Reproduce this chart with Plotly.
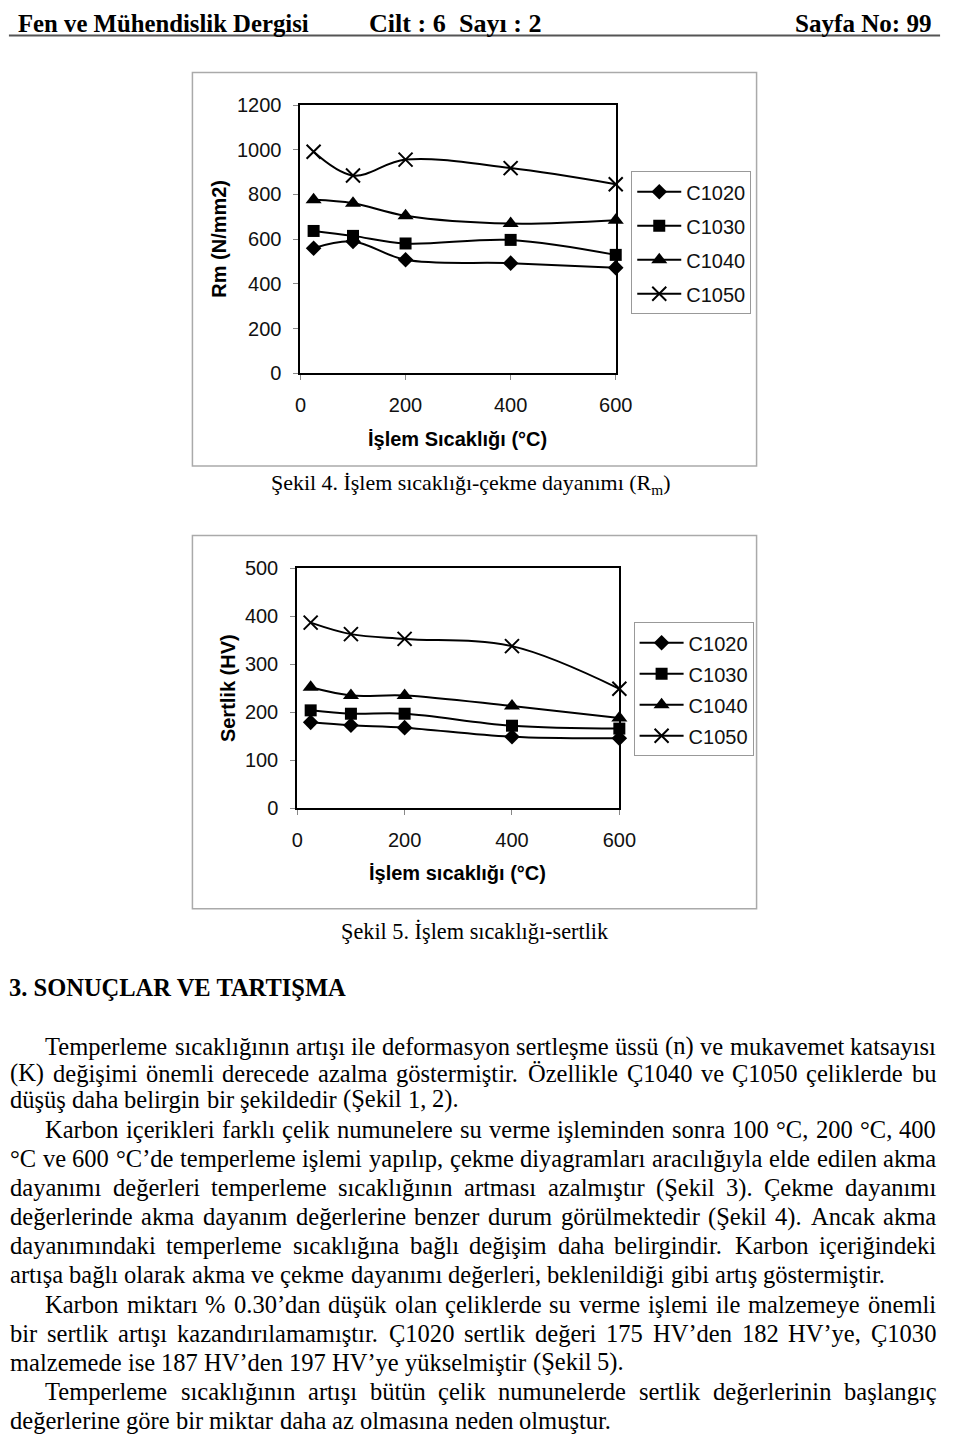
import os, glob, struct
import plotly.graph_objects as go

W, H = 960, 1448

# ---------------- data ----------------
temps = [25, 100, 200, 400, 600]
series = ["C1020", "C1030", "C1040", "C1050"]
rm_c1020 = [560, 590, 508, 493, 473]
rm_c1030 = [637, 615, 581, 597, 530]
rm_c1040 = [776, 761, 705, 670, 685]
rm_c1050 = [991, 885, 956, 918, 846]
hv_c1020 = [179, 173, 168, 149, 146]
hv_c1030 = [204, 197, 197, 172, 166]
hv_c1040 = [252, 235, 235, 213, 188]
hv_c1050 = [387, 363, 353, 338, 249]
x_ticks = [0, 200, 400, 600]
rm_ticks = [0, 200, 400, 600, 800, 1000, 1200]
hv_ticks = [0, 100, 200, 300, 400, 500]

header_left = "Fen ve Mühendislik Dergisi"
header_mid = "Cilt : 6  Sayı : 2"
header_right = "Sayfa No: 99"
caption4 = "Şekil 4. İşlem sıcaklığı-çekme dayanımı (R<sub>m</sub>)"
caption4_plain = "Şekil 4. İşlem sıcaklığı-çekme dayanımı (Rm)"
caption5 = "Şekil 5. İşlem sıcaklığı-sertlik"
heading = "3. SONUÇLAR VE TARTIŞMA"
body_lines = [
    ("Temperleme sıcaklığının artışı ile deformasyon sertleşme üssü (n) ve mukavemet katsayısı", True, True),
    ("(K) değişimi önemli derecede azalma göstermiştir. Özellikle Ç1040 ve Ç1050 çeliklerde bu", False, True),
    ("düşüş daha belirgin bir şekildedir (Şekil 1, 2).", False, False),
    ("Karbon içerikleri farklı çelik numunelere su verme işleminden sonra 100 °C, 200 °C, 400", True, True),
    ("°C ve 600 °C’de temperleme işlemi yapılıp, çekme diyagramları aracılığıyla elde edilen akma", False, True),
    ("dayanımı değerleri temperleme sıcaklığının artması azalmıştır (Şekil 3). Çekme dayanımı", False, True),
    ("değerlerinde akma dayanım değerlerine benzer durum görülmektedir (Şekil 4). Ancak akma", False, True),
    ("dayanımındaki temperleme sıcaklığına bağlı değişim daha belirgindir. Karbon içeriğindeki", False, True),
    ("artışa bağlı olarak akma ve çekme dayanımı değerleri, beklenildiği gibi artış göstermiştir.", False, False),
    ("Karbon miktarı % 0.30’dan düşük olan çeliklerde su verme işlemi ile malzemeye önemli", True, True),
    ("bir sertlik artışı kazandırılamamıştır. Ç1020 sertlik değeri 175 HV’den 182 HV’ye, Ç1030", False, True),
    ("malzemede ise 187 HV’den 197 HV’ye yükselmiştir (Şekil 5).", False, False),
    ("Temperleme sıcaklığının artışı bütün çelik numunelerde sertlik değerlerinin başlangıç", True, True),
    ("değerlerine göre bir miktar daha az olmasına neden olmuştur.", False, False),
]
body_y = [1051, 1078.5, 1105, 1136, 1165.5, 1195, 1224.5, 1254, 1283.5, 1313, 1342.5, 1372, 1401.5, 1431]

SANS = "Liberation Sans, Arial, sans-serif"
SERIF = "Liberation Serif, Times New Roman, serif"
RENDER_FACTOR = 1.025


# ---------------- font metrics (for text layout only) ----------------
def find_font(name):
    for root in ["/usr/share/fonts", "/usr/local/share/fonts", os.path.expanduser("~/.fonts")]:
        hits = glob.glob(os.path.join(root, "**", name), recursive=True)
        if hits:
            return hits[0]
    return None


def ttf_widths(path):
    data = open(path, "rb").read()
    n = struct.unpack(">H", data[4:6])[0]
    tables = {}
    for i in range(n):
        off = 12 + 16 * i
        tag = data[off:off + 4].decode("latin1")
        _, toff, tlen = struct.unpack(">III", data[off + 4:off + 16])
        tables[tag] = toff
    head = tables["head"]
    upem = struct.unpack(">H", data[head + 18:head + 20])[0]
    hhea = tables["hhea"]
    nhm = struct.unpack(">H", data[hhea + 34:hhea + 36])[0]
    hm = tables["hmtx"]
    adv = [struct.unpack(">H", data[hm + 4 * i:hm + 4 * i + 2])[0] for i in range(nhm)]
    cm = tables["cmap"]
    nsub = struct.unpack(">H", data[cm + 2:cm + 4])[0]
    sub = None
    for i in range(nsub):
        pid, eid, soff = struct.unpack(">HHI", data[cm + 4 + 8 * i:cm + 12 + 8 * i])
        fmt = struct.unpack(">H", data[cm + soff:cm + soff + 2])[0]
        if fmt == 4 and pid in (0, 3):
            sub = cm + soff
            break
    segx2 = struct.unpack(">H", data[sub + 6:sub + 8])[0]
    seg = segx2 // 2
    ends = struct.unpack(">%dH" % seg, data[sub + 14:sub + 14 + segx2])
    starts = struct.unpack(">%dH" % seg, data[sub + 16 + segx2:sub + 16 + 2 * segx2])
    deltas = struct.unpack(">%dh" % seg, data[sub + 16 + 2 * segx2:sub + 16 + 3 * segx2])
    rpos = sub + 16 + 3 * segx2
    roffs = struct.unpack(">%dH" % seg, data[rpos:rpos + segx2])

    def gid(c):
        for i in range(seg):
            if ends[i] >= c:
                if starts[i] > c:
                    return 0
                if roffs[i] == 0:
                    return (c + deltas[i]) & 0xFFFF
                addr = rpos + 2 * i + roffs[i] + 2 * (c - starts[i])
                g = struct.unpack(">H", data[addr:addr + 2])[0]
                return (g + deltas[i]) & 0xFFFF if g else 0
        return 0

    cache = {}

    def w(ch):
        if ch not in cache:
            g = gid(ord(ch))
            cache[ch] = adv[min(g, nhm - 1)] / upem
        return cache[ch]
    return w


def fallback_widths(ch):
    if ch == " ":
        return 0.25
    if ch.isupper():
        return 0.68
    if ch.isdigit():
        return 0.5
    if ch in "ilıjtf.,;:’'()":
        return 0.3
    return 0.46


def load(name):
    p = find_font(name)
    if p:
        try:
            return ttf_widths(p)
        except Exception:
            pass
    return fallback_widths


w_serif = load("LiberationSerif-Regular.ttf")
w_serif_b = load("LiberationSerif-Bold.ttf")


def em(text, wf):
    return sum(wf(c) for c in text) * RENDER_FACTOR


def fx(px):
    return px / W


def fy(py):
    return 1 - py / H


annotations = []


def add_text(text, x, y, size, family, bold=False, xanchor="left", angle=0, color="black"):
    t = "<b>%s</b>" % text if bold else text
    annotations.append(dict(text=t, x=fx(x), y=fy(y), xref="paper", yref="paper",
                            xanchor=xanchor, yanchor="middle", showarrow=False,
                            textangle=angle, borderpad=0, borderwidth=0,
                            font=dict(family=family, size=size, color=color)))


def fit_text(text, x0, x1, y, wf, bold, measure=None):
    size = (x1 - x0) / em(measure or text, wf)
    add_text(text, x0, y, size, SERIF, bold=bold)


# header
fit_text(header_left, 12, 310, 13, w_serif_b, True)
fit_text(header_mid, 372, 549, 13, w_serif_b, True)
fit_text(header_right, 808, 948, 13, w_serif_b, True)

# captions and heading
fit_text(caption4, 272, 687, 480, w_serif, False, measure=caption4_plain)
fit_text(caption5, 343, 617, 935, w_serif, False)
fit_text(heading, 3, 352, 992, w_serif_b, True)

# body text: calibrate size from the non-justified last lines
cal = [(body_lines[8][0], 905 - 4), (body_lines[11][0], 633 - 4), (body_lines[13][0], 620 - 4)]
sizes = sorted(wd / em(t, w_serif) for t, wd in cal)
body_size = sizes[len(sizes) // 2]
LEFT, RIGHT, INDENT = 4, 953, 40
for (line, indent, justify), y in zip(body_lines, body_y):
    words = line.split()
    x0 = LEFT + (INDENT - LEFT if indent else 0)
    widths = [em(wd, w_serif) * body_size for wd in words]
    if justify and len(words) > 1:
        gap = (RIGHT - x0 - sum(widths)) / (len(words) - 1)
    else:
        gap = em(" ", w_serif) * body_size
    x = x0
    for wd, ww in zip(words, widths):
        add_text(wd, x, y, body_size, SERIF)
        x += ww + gap

# axis titles (chart text)
add_text("Rm (N/mm2)", 218, 231.5, 20, SANS, bold=True, xanchor="center", angle=-90)
add_text("İşlem Sıcaklığı (°C)", 463, 435, 20, SANS, bold=True, xanchor="center")
add_text("Sertlik (HV)", 227, 688, 20, SANS, bold=True, xanchor="center", angle=-90)
add_text("İşlem sıcaklığı (°C)", 463, 875, 20, SANS, bold=True, xanchor="center")

# ---------------- traces ----------------
symbols = ["diamond", "square", "triangle-up", "x-thin"]
msizes = [12, 12, 14, 14]
rm_sets = [rm_c1020, rm_c1030, rm_c1040, rm_c1050]
hv_sets = [hv_c1020, hv_c1030, hv_c1040, hv_c1050]

fig = go.Figure()
for k, (name, ys) in enumerate(zip(series, rm_sets)):
    fig.add_trace(go.Scatter(
        x=temps, y=ys, name=name, mode="lines+markers", xaxis="x", yaxis="y",
        legend="legend", legendgroup="a%d" % k, cliponaxis=False,
        line=dict(color="black", width=2, shape="spline", smoothing=1),
        marker=dict(symbol=symbols[k], size=msizes[k], color="black",
                    line=dict(color="black", width=2 if symbols[k] == "x-thin" else 0))))
for k, (name, ys) in enumerate(zip(series, hv_sets)):
    fig.add_trace(go.Scatter(
        x=temps, y=ys, name=name, mode="lines+markers", xaxis="x2", yaxis="y2",
        legend="legend2", legendgroup="b%d" % k, cliponaxis=False,
        line=dict(color="black", width=2, shape="spline", smoothing=1),
        marker=dict(symbol=symbols[k], size=msizes[k], color="black",
                    line=dict(color="black", width=2 if symbols[k] == "x-thin" else 0))))

axis_common = dict(showline=True, linecolor="black", linewidth=2, mirror=True,
                   ticks="outside", ticklen=5, tickcolor="#888", tickwidth=1,
                   showgrid=False, zeroline=False,
                   tickfont=dict(family=SANS, size=20, color="#111"))

shapes = [
    dict(type="line", xref="paper", yref="paper", x0=fx(3), x1=fx(957), y0=fy(25), y1=fy(25),
         line=dict(color="#555", width=2)),
    dict(type="rect", xref="paper", yref="paper", x0=fx(191), x1=fx(769), y0=fy(62.5), y1=fy(462),
         line=dict(color="#aaa", width=1.5), layer="below"),
    dict(type="rect", xref="paper", yref="paper", x0=fx(191), x1=fx(769), y0=fy(532.5), y1=fy(911.5),
         line=dict(color="#aaa", width=1.5), layer="below"),
]

legend_common = dict(xanchor="left", yanchor="top", bordercolor="#999", borderwidth=1,
                     bgcolor="white", font=dict(family=SANS, size=20, color="#111"),
                     traceorder="grouped", itemwidth=44, itemclick=False)

fig.update_layout(
    width=W, height=H, margin=dict(l=0, r=0, t=0, b=0),
    paper_bgcolor="white", plot_bgcolor="white", showlegend=True,
    xaxis=dict(domain=[fx(301.7), fx(624.7)], anchor="y", range=[0, 600], tickvals=x_ticks,
               ticklabelstandoff=8, **axis_common),
    yaxis=dict(domain=[fy(368), fy(95.5)], anchor="x", range=[0, 1200], tickvals=rm_ticks,
               ticklabelstandoff=8, **axis_common),
    xaxis2=dict(domain=[fx(298.4), fx(628.4)], anchor="y2", range=[0, 600], tickvals=x_ticks,
                ticklabelstandoff=8, **axis_common),
    yaxis2=dict(domain=[fy(809.5), fy(566)], anchor="x2", range=[0, 500], tickvals=hv_ticks,
                ticklabelstandoff=8, **axis_common),
    legend=dict(x=fx(640.6), y=fy(162.7), tracegroupgap=5, **legend_common),
    legend2=dict(x=fx(643), y=fy(620.7), tracegroupgap=2, **legend_common),
    annotations=annotations, shapes=shapes,
)

fig.write_html("out.html", config={"displayModeBar": False},
               post_script="document.body.style.margin='0px';document.body.style.overflow='hidden';")
